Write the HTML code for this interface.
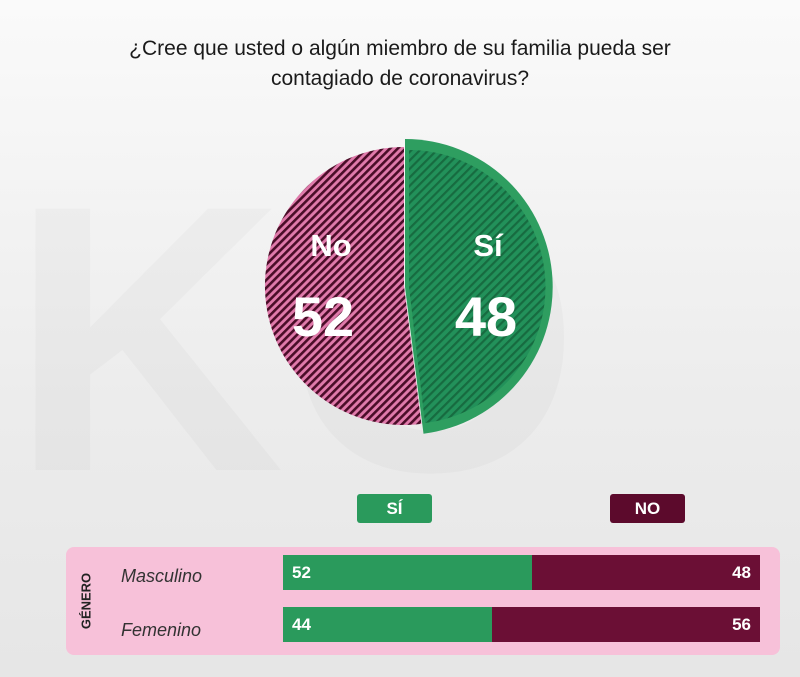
<!DOCTYPE html>
<html><head><meta charset="utf-8"><style>
body{margin:0;width:800px;height:677px;overflow:hidden;background:linear-gradient(#fafafa,#ececec 60%,#e6e6e6);font-family:"Liberation Sans",sans-serif;position:relative}
.t{position:absolute;left:0;width:800px;text-align:center;font-size:21px;color:#1a1a1a;top:34px;line-height:30px}
.lg{position:absolute;top:494px;height:29px;width:75px;border-radius:3px;color:#fff;font-weight:bold;font-size:17px;text-align:center;line-height:29px}
.box{position:absolute;left:66px;top:547px;width:714px;height:108px;background:#f7c1d9;border-radius:8px}
.bar{position:absolute;left:283px;width:477px;height:35px;background:#6b0f35}
.bar div{position:absolute;left:0;top:0;height:35px;background:#2a9a5c}
.bar span{position:absolute;top:0;line-height:35px;color:#fff;font-weight:bold;font-size:17px}
.lab{position:absolute;left:121px;font-style:italic;font-size:18px;color:#333}
</style></head><body>
<div class="t">¿Cree que usted o algún miembro de su familia pueda ser<br>contagiado de coronavirus?</div>
<svg width="800" height="677" style="position:absolute;left:0;top:0">
<defs>
<pattern id="pp" width="5.5" height="5.5" patternUnits="userSpaceOnUse" patternTransform="rotate(45)"><rect width="6" height="6" fill="#e07aab"/><rect width="2.6" height="6" fill="#4a0d28"/></pattern>
<pattern id="gp" width="6" height="6" patternUnits="userSpaceOnUse" patternTransform="rotate(45)"><rect width="6" height="6" fill="#22915a"/><rect width="2.2" height="6" fill="#176b40"/></pattern>
</defs>
<text x="10" y="470" font-size="380" font-weight="bold" fill="#000" opacity="0.02">KO</text>
<path d="M404,286 L404,147 A139,139 0 1,0 421.4,423.9 Z" fill="url(#pp)"/>
<path d="M405,287 L405,139 A148,148 0 0,1 423.5,433.8 Z" fill="#2e9e60"/>
<path d="M409,287 L409,150 A137,137 0 0,1 425,423 Z" fill="url(#gp)"/>
<g fill="#fff" font-weight="bold" text-anchor="middle">
<text x="331" y="256" font-size="31">No</text>
<text x="323" y="336" font-size="56">52</text>
<text x="488" y="256" font-size="31">Sí</text>
<text x="486" y="336" font-size="56">48</text>
</g>
</svg>
<div class="lg" style="left:357px;background:#2a9a5c">SÍ</div>
<div class="lg" style="left:610px;background:#5c0a2c">NO</div>
<div class="box"></div>
<div style="position:absolute;left:86px;top:601px;transform:translate(-50%,-50%) rotate(-90deg);font-weight:bold;font-size:13px;color:#222">GÉNERO</div>
<div class="lab" style="top:566px">Masculino</div>
<div class="lab" style="top:620px">Femenino</div>
<div class="bar" style="top:555px"><div style="width:249px"></div><span style="left:9px">52</span><span style="right:9px">48</span></div>
<div class="bar" style="top:607px"><div style="width:209px"></div><span style="left:9px">44</span><span style="right:9px">56</span></div>
</body></html>
